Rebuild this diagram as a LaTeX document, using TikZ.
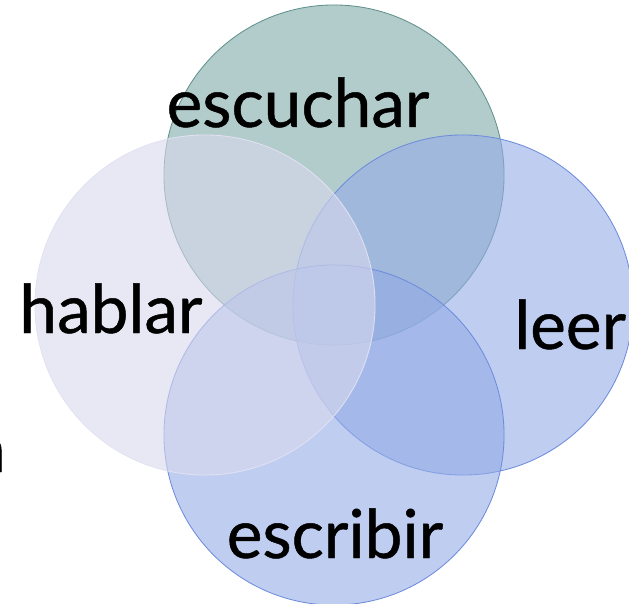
\documentclass[tikz,border=0pt]{standalone}
\usepackage{fontspec}
\setmainfont{Lato}
\newfontfamily\wordfont[FakeBold=0.7]{Lato}
\definecolor{escucharfill}{RGB}{127,168,168}
\definecolor{escucharline}{RGB}{95,145,140}
\definecolor{leerfill}{RGB}{147,172,230}
\definecolor{leerline}{RGB}{110,140,220}
\definecolor{hablarfill}{RGB}{217,217,237}
\definecolor{hablarline}{RGB}{225,225,242}

\tikzset{
  petal/.style={circle,minimum size=8.5cm,inner sep=0pt,fill opacity=0.6,line width=0.6pt},
  word/.style={inner sep=0pt,anchor=base,font=\wordfont\fontsize{48}{52}\selectfont}
}

\begin{document}
\begin{tikzpicture}[x=0.025cm,y=-0.025cm]
  \useasboundingbox (0,0) rectangle (629,603);

  \node[petal,fill=escucharfill,draw=escucharline] (escuchar) at (334,175) {};
  \node[petal,fill=leerfill,draw=leerline] (leer) at (463,305) {};
  \node[petal,fill=leerfill,draw=leerline] (escribir) at (334,435) {};
  \node[petal,fill=hablarfill,draw=hablarline] (hablar) at (205,305) {};

  \node[word] (escucharlbl) at (298,127) {escuchar};
  \node[word] (hablarlbl) at (111,333) {hablar};
  \node[word,anchor=base west] (leerlbl) at (514,349) {leer};
  \node[word] (escribirlbl) at (335,558) {escribir};
  \node[word,anchor=base east] (restlbl) at (6,472) {n};
\end{tikzpicture}
\end{document}
